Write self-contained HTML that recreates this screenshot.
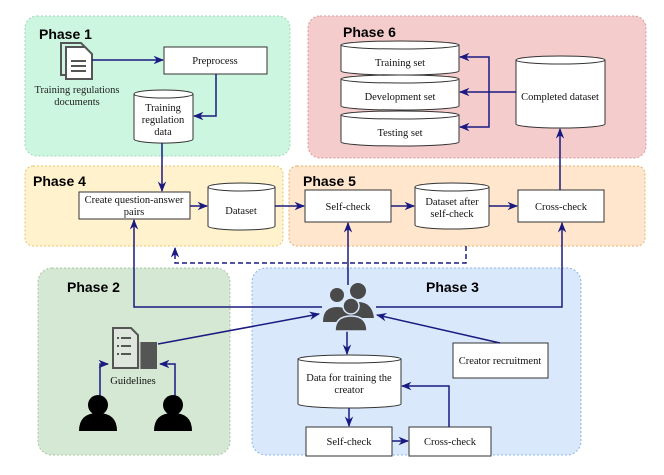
<!DOCTYPE html>
<html><head><meta charset="utf-8"><style>body{margin:0;background:#fff} .t text{font-family:"Liberation Serif","DejaVu Serif","Times New Roman",serif;font-size:10.5px}</style></head><body>
<svg width="664" height="470" viewBox="0 0 664 470" xmlns="http://www.w3.org/2000/svg">
<defs>
<marker id="a" viewBox="0 0 10 10" refX="9" refY="5" markerWidth="7" markerHeight="7" orient="auto"><path d="M0,1 L10,5 L0,9 L3,5z" fill="#1a1a80"/></marker>
</defs>
<g stroke-width="1" stroke-dasharray="2,2">
<rect x="25" y="16" width="265" height="140" rx="12" fill="#cdf6e1" stroke="#9ed8b3"/>
<rect x="308" y="16" width="338" height="142" rx="12" fill="#f4cccc" stroke="#d99"/>
<rect x="25" y="166" width="258" height="80" rx="8" fill="#fff2cc" stroke="#e6c56a"/>
<rect x="289" y="166" width="356" height="80" rx="8" fill="#ffe6cc" stroke="#e6b066"/>
<rect x="38" y="268" width="192" height="187" rx="14" fill="#d5e8d4" stroke="#a7c7a2"/>
<rect x="252" y="268" width="329" height="187" rx="14" fill="#dae8fc" stroke="#8ab4ea"/>
</g>
<g font-family="'Liberation Sans',sans-serif" font-weight="bold" font-size="14" fill="#000">
<text x="39" y="39">Phase 1</text><text x="343" y="37">Phase 6</text>
<text x="33" y="186">Phase 4</text><text x="303" y="186">Phase 5</text>
<text x="67" y="292">Phase 2</text><text x="426" y="292">Phase 3</text>
</g>
<g fill="#555"><path d="M61,43 h20 l6,6 v26 h-26z" fill="none" stroke="#555" stroke-width="2"/><path d="M66,47 h19 l7,7 v25 h-26z" fill="#fff" stroke="#555" stroke-width="2"/><rect x="71" y="60" width="15" height="2"/><rect x="71" y="65" width="15" height="2"/><rect x="71" y="70" width="15" height="2"/></g>
<g fill="#fff" stroke="#333" stroke-width="1">
<rect x="164" y="47" width="103" height="27"/>
<path d="M134,94 v45 a29,4 0 0 0 59,0 v-45"/><ellipse cx="163.5" cy="94" rx="29.5" ry="4"/>
<rect x="79" y="192" width="111" height="27"/>
<path d="M208,187 v39 a33.5,4 0 0 0 67,0 v-39"/><ellipse cx="241.5" cy="187" rx="33.5" ry="4"/>
<rect x="305" y="190" width="86" height="32"/>
<path d="M415,187 v38 a37,4 0 0 0 74,0 v-38"/><ellipse cx="452" cy="187" rx="37" ry="4"/>
<rect x="518" y="190" width="86" height="32"/>
<path d="M341,45 v26 a59,4 0 0 0 118,0 v-26"/><ellipse cx="400" cy="45" rx="59" ry="4"/>
<path d="M341,79 v27 a59,4 0 0 0 118,0 v-27"/><ellipse cx="400" cy="79" rx="59" ry="4"/>
<path d="M341,115 v27 a59,4 0 0 0 118,0 v-27"/><ellipse cx="400" cy="115" rx="59" ry="4"/>
<path d="M516,60 v64 a44.5,4 0 0 0 89,0 v-64"/><ellipse cx="560.5" cy="60" rx="44.5" ry="4"/>
<path d="M298,359 v45 a51.5,4 0 0 0 103,0 v-45"/><ellipse cx="349.5" cy="359" rx="51.5" ry="4"/>
<rect x="306" y="427" width="86" height="29"/>
<rect x="409" y="427" width="82" height="29"/>
<rect x="453" y="343" width="95" height="35"/>
</g>
<g class="t" fill="#111" text-anchor="middle" font-family="'Liberation Serif','DejaVu Serif',serif" font-size="10.5">
<text x="77" y="93" fill="#222">Training regulations</text>
<text x="77" y="105" fill="#222">documents</text>
<text x="215" y="64">Preprocess</text>
<text x="163" y="111">Training</text><text x="163" y="123">regulation</text><text x="163" y="135">data</text>
<text x="134" y="203">Create question-answer</text><text x="134" y="215">pairs</text>
<text x="241" y="214">Dataset</text>
<text x="348" y="210">Self-check</text>
<text x="452" y="205">Dataset after</text><text x="452" y="217">self-check</text>
<text x="561" y="210">Cross-check</text>
<text x="400" y="66">Training set</text><text x="400" y="100">Development set</text><text x="400" y="136">Testing set</text>
<text x="560" y="100">Completed dataset</text>
<text x="349" y="381">Data for training the</text><text x="349" y="393">creator</text>
<text x="349" y="445">Self-check</text><text x="450" y="445">Cross-check</text>
<text x="500" y="364">Creator recruitment</text>
<text x="133" y="384">Guidelines</text>
</g>
<g stroke="#1a1a80" stroke-width="1.5" fill="none" marker-end="url(#a)">
<path d="M92,60 H163"/>
<path d="M216,74 V116 H194"/>
<path d="M162,143 V191"/>
<path d="M190,206 H207"/>
<path d="M275,206 H304"/>
<path d="M391,206 H414"/>
<path d="M489,206 H517"/>
<path d="M560,190 V129"/>
<path d="M516,92 H489 V57 H460"/>
<path d="M489,92 H460"/>
<path d="M489,92 V127 H460"/>
<path d="M466,246 V263 H175 V248" stroke-dasharray="5,3"/>
<path d="M348,285 V223"/>
<path d="M376,307 H562 V223"/>
<path d="M322,307 H134 V220"/>
<path d="M347,330 V354"/>
<path d="M349,408 V426"/>
<path d="M392,441 H408"/>
<path d="M449,427 V386 H402"/>
<path d="M500,343 L377,315"/>
<path d="M158,344 L319,314"/>
<path d="M100,398 V364 H108"/>
<path d="M175,398 V364 H160"/>
</g>
<g fill="#555"><path d="M113,328 h18 l7,7 v33 h-25z" fill="#dfe6dd" stroke="#555" stroke-width="2"/><rect x="117" y="337" width="2" height="2"/><rect x="121" y="337" width="10" height="2"/><rect x="117" y="345" width="2" height="2"/><rect x="121" y="345" width="10" height="2"/><rect x="117" y="353" width="2" height="2"/><rect x="121" y="353" width="10" height="2"/><rect x="137" y="342" width="20" height="27"/><rect x="139" y="342" width="1.5" height="27" fill="#ccc"/></g>
<g fill="#4a4a4a">
<circle cx="337" cy="295" r="7"/><path d="M323,322 q0,-15 14,-15 q14,0 14,15z"/>
<circle cx="358" cy="291" r="8"/><path d="M345,318 q0,-16 13,-16 q14,0 16,16z"/>
<circle cx="351" cy="306" r="8" stroke="#dae8fc" stroke-width="1.5"/><path d="M335,331 q0,-15 16,-15 q16,0 16,15z" stroke="#dae8fc" stroke-width="1.5"/>
</g>
<g fill="#000">
<circle cx="98" cy="405" r="10"/><path d="M79,431 q0,-18 19,-18 q19,0 19,18z"/>
<circle cx="173" cy="405" r="10"/><path d="M154,431 q0,-18 19,-18 q19,0 19,18z"/>
</g>
</svg>
</body></html>
